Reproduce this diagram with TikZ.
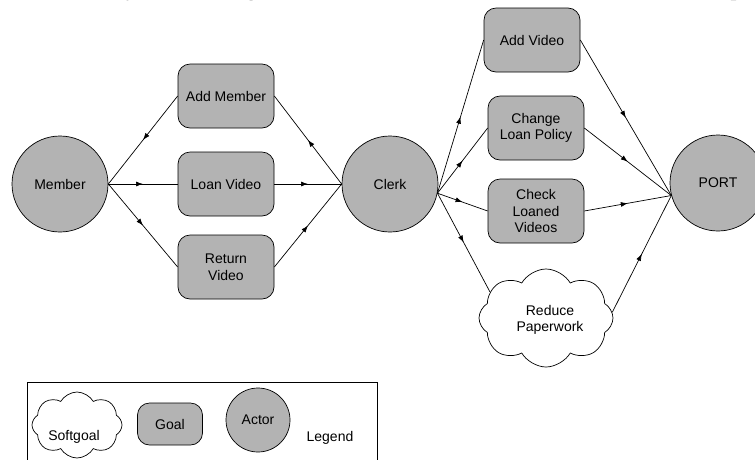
\documentclass[tikz,border=0pt]{standalone}
\usepackage{fontspec}
\setmainfont{Liberation Sans}
\newfontfamily\serifface{Liberation Serif}
\usetikzlibrary{shapes.symbols,arrows.meta,decorations.markings}
\definecolor{goalgray}{RGB}{179,179,179}
\tikzset{
  every node/.style={font=\fontsize{14}{16.6}\selectfont, align=center},
  actor/.style={circle, draw=black, line width=0.7pt, fill=goalgray, minimum size=96pt, inner sep=0pt},
  goal/.style={rectangle, rounded corners=12pt, draw=black, line width=0.7pt, fill=goalgray, minimum width=96pt, minimum height=64pt, inner sep=0pt},
  softgoal/.style={cloud, cloud puffs=8, cloud puff arc=120, aspect=1.4, draw=black, line width=0.7pt, fill=white, inner sep=0pt},
  link/.style={line width=0.7pt, postaction={decorate}, decoration={markings, mark=at position 0.5 with {\arrow{Latex[length=7pt,width=5pt]}}}},
}
\begin{document}
\begin{tikzpicture}[x=1pt,y=-1pt]
\useasboundingbox (0,0) rectangle (755,459);
\begin{scope}
\clip (0,0) rectangle (755,459);
\node[anchor=base west, inner sep=0, font=\serifface\fontsize{24}{26}\selectfont] (toptext) at (-3,-4.5) {\hbox to 756pt{that shared by actors. Figure 4 shows a model of the Video Store in Scope}};
% actors
\node[actor] (member) at (60,184) {Member};
\node[actor] (clerk) at (390,184) {Clerk};
\node[actor] (port) at (718,183) {PORT};
% goals
\node[goal] (addm) at (226,96) {Add Member};
\node[goal] (loan) at (226,184) {Loan Video};
\node[goal] (ret) at (226,267) {Return\\Video};
\node[goal] (addv) at (532,40) {Add Video};
\node[goal] (chg) at (536,128) {Change\\Loan Policy};
\node[goal] (chk) at (536,211) {Check\\Loaned\\Videos};
\node[softgoal, minimum width=134pt, minimum height=98pt] (rp) at (546,318) {};
\node (rptext) at (550,320) {Reduce\\Paperwork};
% links left
\draw[link] (addm.west) -- (member.east);
\draw[link] (member.east) -- (loan.west);
\draw[link] (member.east) -- (ret.west);
\draw[link] (loan.east) -- (clerk.west);
\draw[link] (clerk.west) -- (addm.east);
\draw[link] (ret.east) -- (clerk.west);
% links right
\coordinate (cr) at (clerk.-11);
\coordinate (pl) at (port.195);
\draw[link] (cr) -- (addv.west);
\draw[link] (cr) -- (chg.west);
\draw[link] (cr) -- (chk.west);
\draw[link] (cr) -- (rp.155);
\draw[link] (addv.east) -- (pl);
\draw[link] (chg.east) -- (pl);
\draw[link] (chk.east) -- (pl);
\draw[link] (rp.5) -- (pl);
% legend
\draw[line width=0.8pt] (27,470) -- (27,382) -- (377,382) -- (377,470);
\node[softgoal, minimum width=90pt, minimum height=66pt] (lsoft) at (77,425) {};
\node (lsofttext) at (74,437) {Softgoal};
\node[goal, minimum width=65pt, minimum height=42pt] (lgoal) at (170,424) {Goal};
\node[actor, minimum size=64pt] (lactor) at (258,420) {Actor};
\node (legend) at (330,438) {Legend};
\end{scope}
\end{tikzpicture}
\end{document}
